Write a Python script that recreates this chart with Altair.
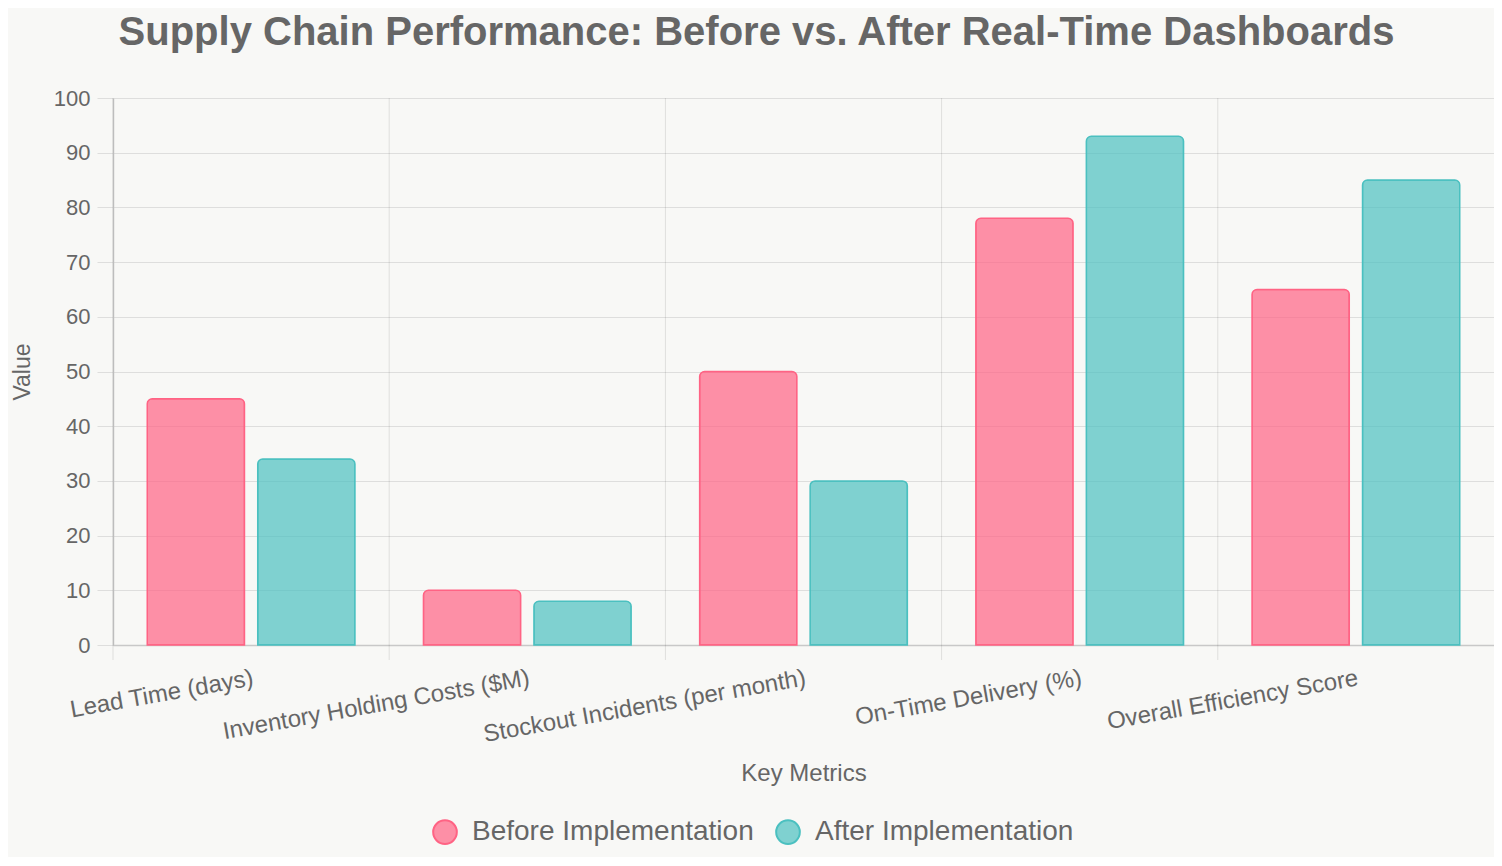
import altair as alt
import pandas as pd

categories = [
    "Lead Time (days)",
    "Inventory Holding Costs ($M)",
    "Stockout Incidents (per month)",
    "On-Time Delivery (%)",
    "Overall Efficiency Score",
]
before = [45, 10, 50, 78, 65]
after = [34, 8, 30, 93, 85]
series = ["Before Implementation", "After Implementation"]
fill_colors = ["rgba(255,99,132,0.7)", "rgba(75,192,192,0.7)"]
line_colors = ["rgb(255,99,132)", "rgb(75,192,192)"]
y_ticks = list(range(0, 101, 10))

rows = []
for c, b, a in zip(categories, before, after):
    rows.append({"metric": c, "series": series[0], "value": b})
    rows.append({"metric": c, "series": series[1], "value": a})
df = pd.DataFrame(rows)
cat_df = pd.DataFrame({"metric": categories})

W, H = 1381, 547
FONT = "Liberation Sans, Arial, Helvetica, sans-serif"
TXT = "#666666"
GRID = "rgba(0,0,0,0.1)"

x_scale = alt.Scale(domain=categories, paddingInner=0, paddingOuter=0)

x_axis = alt.Axis(
    title="Key Metrics",
    labelAngle=-10,
    labelAlign="right",
    labelBaseline="top",
    labelPadding=21,
    ticks=False,
    grid=False,
    labelFontSize=24,
    labelColor=TXT,
    labelFont=FONT,
    labelLimit=0,
    domainColor="#c8c8c8",
    domainWidth=1.5,
    titleFontSize=24,
    titleColor=TXT,
    titleFont=FONT,
    titleFontWeight="normal",
    titlePadding=15,
)

legend = alt.Legend(
    title=None,
    orient="none",
    legendX=318,
    legendY=720,
    direction="horizontal",
    symbolType="circle",
    symbolSize=560,
    symbolStrokeWidth=2,
    labelFontSize=28,
    labelColor=TXT,
    labelFont=FONT,
    labelOffset=13,
    labelLimit=0,
    columnPadding=18,
)

bars = alt.Chart(df).mark_bar(
    strokeWidth=1.5, cornerRadiusTopLeft=5, cornerRadiusTopRight=5
).encode(
    x=alt.X("metric:N", sort=categories, scale=x_scale, axis=x_axis),
    xOffset=alt.XOffset(
        "series:N",
        sort=series,
        scale=alt.Scale(domain=series, paddingInner=0.12, paddingOuter=0.31),
    ),
    y=alt.Y(
        "value:Q",
        scale=alt.Scale(domain=[0, 100], nice=False),
        axis=alt.Axis(
            values=y_ticks,
            title="Value",
            labelFontSize=22,
            labelColor=TXT,
            labelFont=FONT,
            labelPadding=7,
            tickSize=16,
            tickColor=GRID,
            gridColor=GRID,
            domainColor="#c8c8c8",
            domainWidth=1.5,
            titleFontSize=23,
            titleColor=TXT,
            titleFont=FONT,
            titleFontWeight="normal",
            titlePadding=19,
        ),
    ),
    fill=alt.Fill("series:N", sort=series, scale=alt.Scale(domain=series, range=fill_colors), legend=legend),
    stroke=alt.Stroke("series:N", sort=series, scale=alt.Scale(domain=series, range=line_colors), legend=legend),
)

vgrid = alt.Chart(cat_df).mark_rule(color=GRID, strokeWidth=1).encode(
    x=alt.X("metric:N", sort=categories, scale=x_scale, bandPosition=0, axis=x_axis),
    y=alt.value(0),
    y2=alt.value(H + 15),
)

chart = alt.layer(bars, vgrid).properties(
    width=W,
    height=H,
    autosize=alt.AutoSizeParams(type="none"),
    padding={"left": 105, "top": 90, "right": 0, "bottom": 212},
    background="#f8f8f6",
    title=alt.TitleParams(
        "Supply Chain Performance: Before vs. After Real-Time Dashboards",
        fontSize=40,
        fontWeight="bold",
        color=TXT,
        font=FONT,
        anchor="middle",
        frame="group",
        dx=-47,
        offset=34,
    ),
).configure_view(stroke=None)

chart.save("out.html", embed_options={"renderer": "svg", "actions": False})
